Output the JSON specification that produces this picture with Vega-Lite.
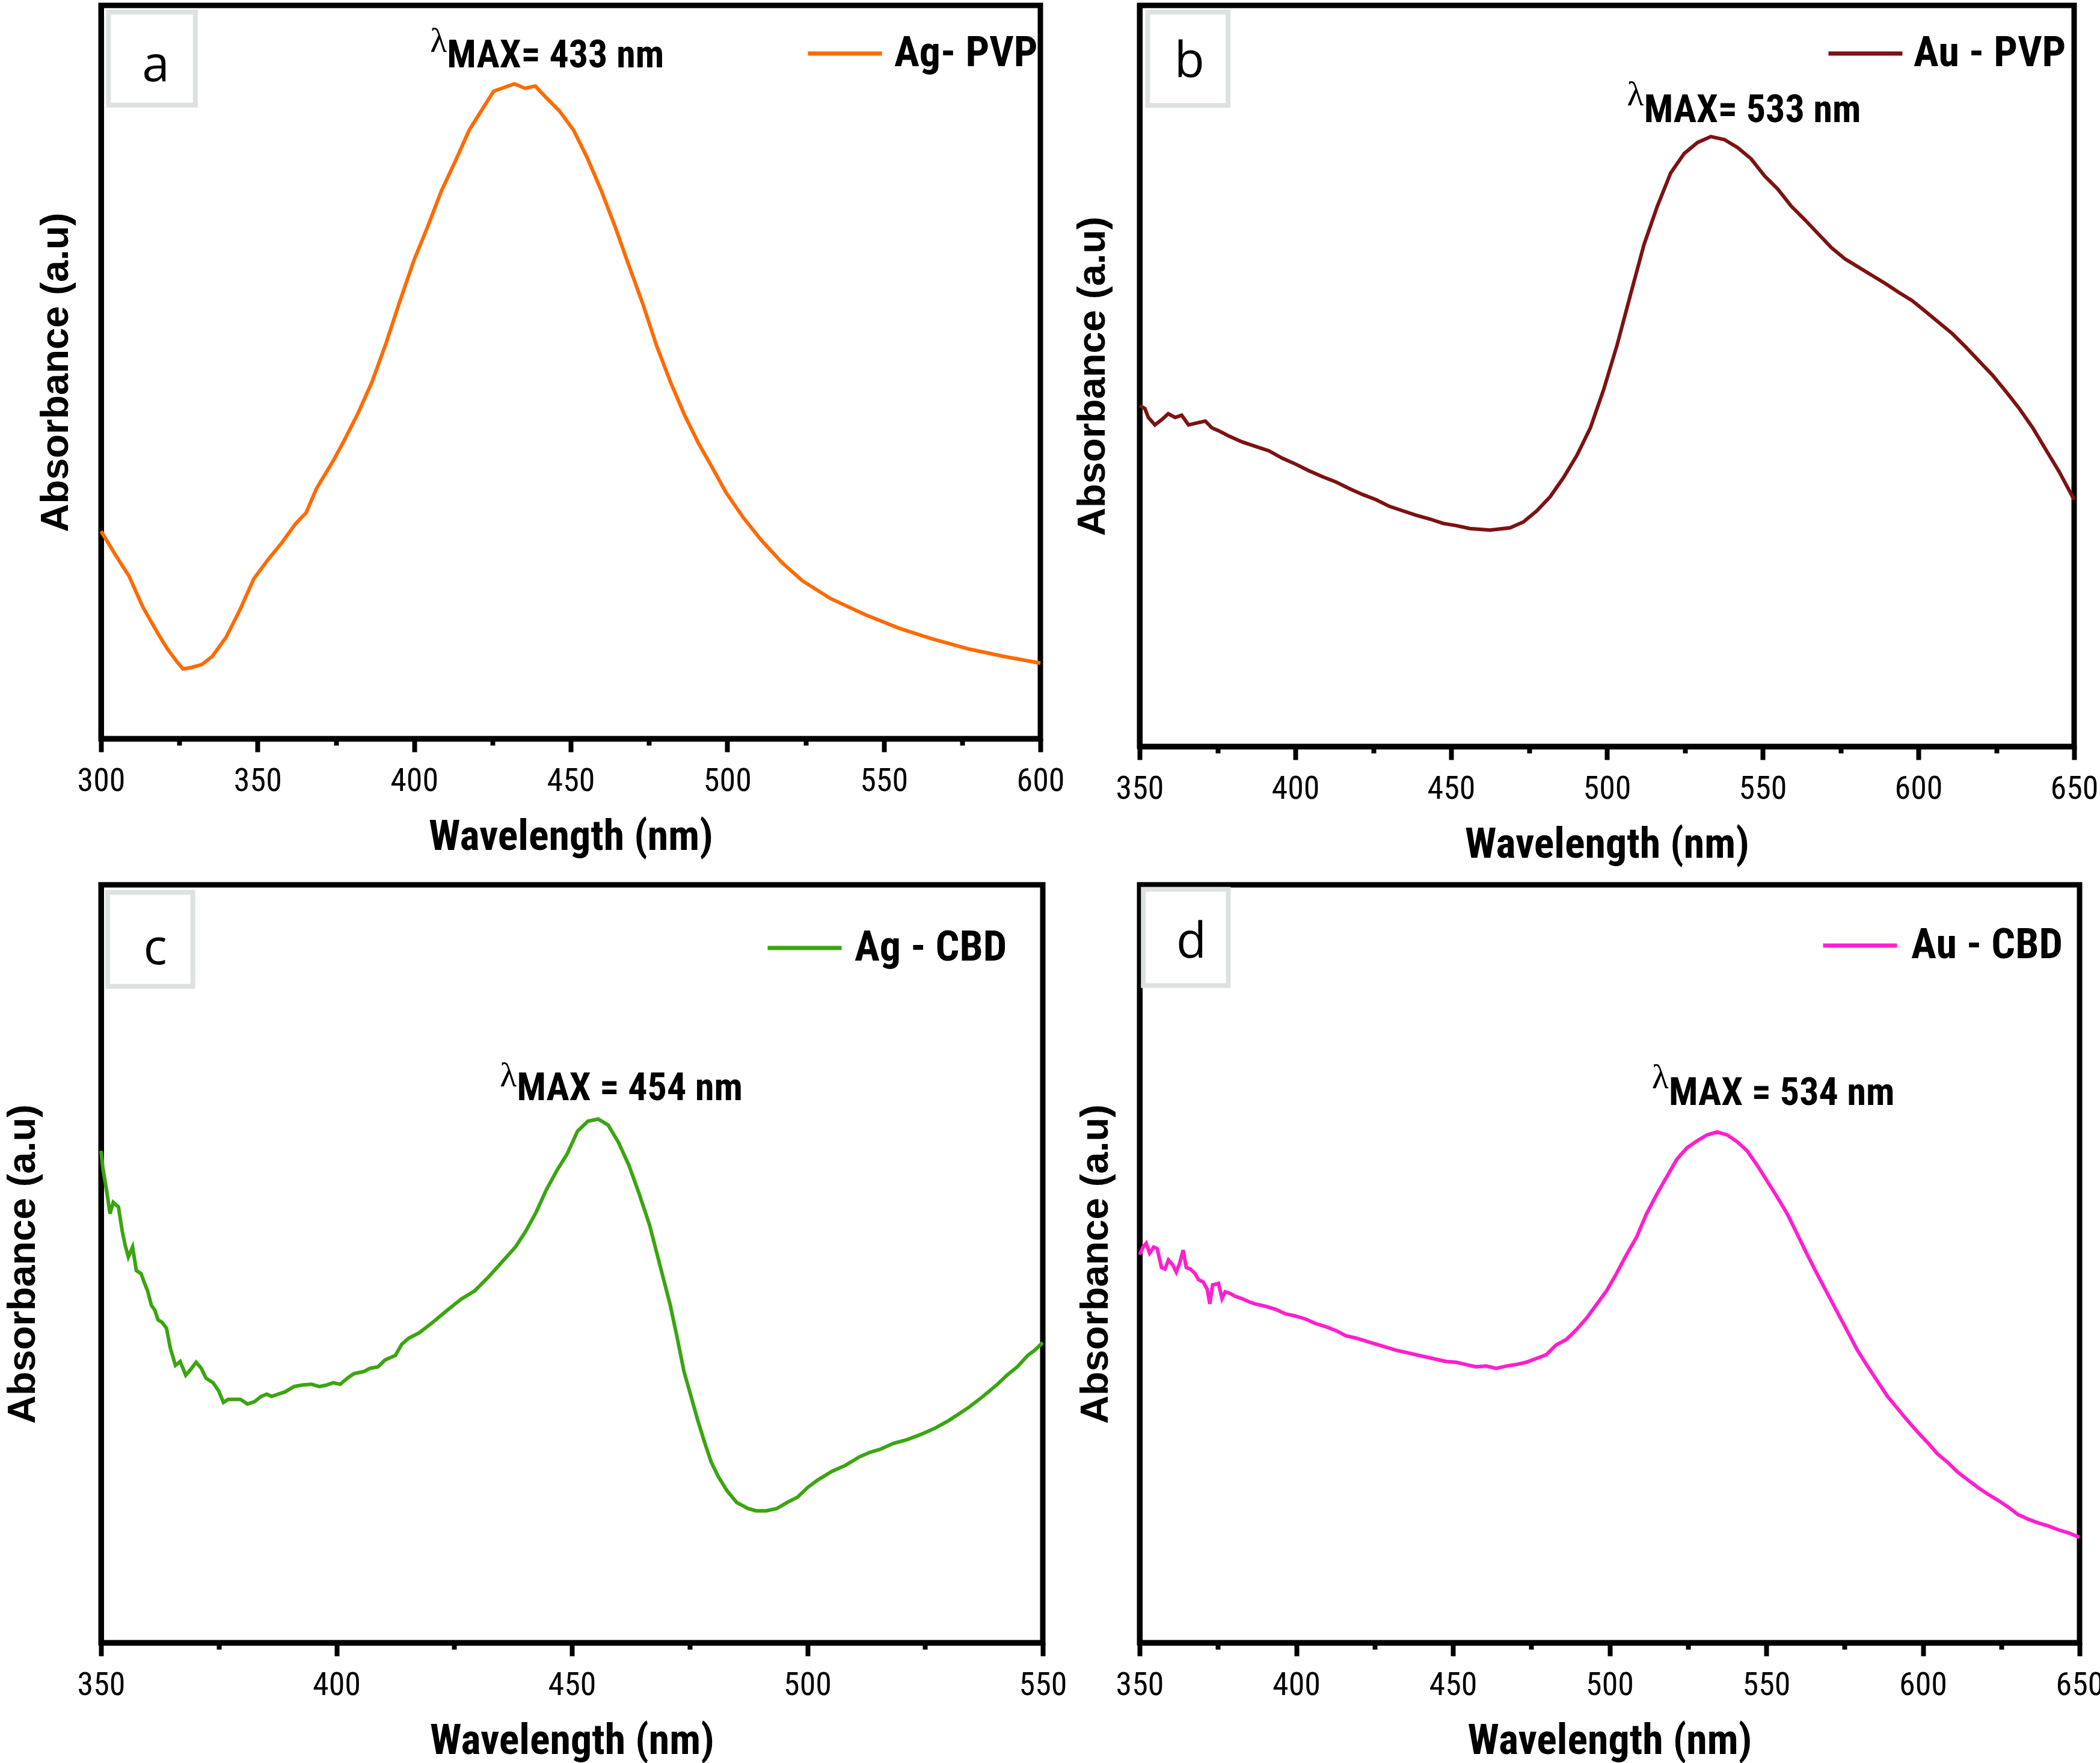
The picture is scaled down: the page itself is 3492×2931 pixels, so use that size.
{
  "$schema": "https://vega.github.io/schema/vega-lite/v6.json",
  "background": "white",
  "autosize": {"type": "pad"},
  "padding": {"left": 0, "top": 4, "right": 4, "bottom": 4},
  "columns": 2,
  "spacing": {"row": 230, "column": 161},
  "bounds": "flush",
  "resolve": {"scale": {"color": "independent"}, "legend": {"color": "independent"}},
  "datasets": {
    "a_curve": [
      {"wl":300.0,"abs":0.283},{"wl":304.4,"abs":0.252},{"wl":308.9,"abs":0.222},{"wl":313.3,"abs":0.180},{"wl":317.8,"abs":0.146},{"wl":321.1,"abs":0.123},{"wl":324.4,"abs":0.104},{"wl":326.2,"abs":0.095},{"wl":328.8,"abs":0.097},{"wl":332.2,"abs":0.101},{"wl":335.5,"abs":0.112},{"wl":339.9,"abs":0.138},{"wl":344.4,"abs":0.176},{"wl":348.8,"abs":0.218},{"wl":353.3,"abs":0.244},{"wl":357.7,"abs":0.267},{"wl":362.1,"abs":0.293},{"wl":365.5,"abs":0.308},{"wl":368.8,"abs":0.341},{"wl":374.3,"abs":0.380},{"wl":377.7,"abs":0.407},{"wl":382.1,"abs":0.444},{"wl":386.5,"abs":0.486},{"wl":391.0,"abs":0.539},{"wl":395.4,"abs":0.596},{"wl":399.9,"abs":0.652},{"wl":404.3,"abs":0.698},{"wl":408.7,"abs":0.747},{"wl":413.2,"abs":0.788},{"wl":417.6,"abs":0.830},{"wl":422.0,"abs":0.860},{"wl":425.4,"abs":0.883},{"wl":428.7,"abs":0.888},{"wl":432.0,"abs":0.893},{"wl":435.4,"abs":0.887},{"wl":438.7,"abs":0.890},{"wl":442.0,"abs":0.875},{"wl":446.4,"abs":0.856},{"wl":450.9,"abs":0.830},{"wl":455.3,"abs":0.792},{"wl":459.8,"abs":0.747},{"wl":464.2,"abs":0.698},{"wl":468.6,"abs":0.645},{"wl":473.1,"abs":0.592},{"wl":477.5,"abs":0.535},{"wl":481.9,"abs":0.486},{"wl":486.4,"abs":0.441},{"wl":490.8,"abs":0.403},{"wl":495.3,"abs":0.369},{"wl":499.7,"abs":0.335},{"wl":505.2,"abs":0.301},{"wl":510.8,"abs":0.271},{"wl":517.5,"abs":0.240},{"wl":524.1,"abs":0.215},{"wl":533.0,"abs":0.191},{"wl":544.1,"abs":0.169},{"wl":555.2,"abs":0.150},{"wl":566.3,"abs":0.135},{"wl":577.4,"abs":0.122},{"wl":588.5,"abs":0.112},{"wl":600.0,"abs":0.103}
    ],
    "b_curve": [
      {"wl":350.0,"abs":0.460},{"wl":351.7,"abs":0.456},{"wl":352.8,"abs":0.444},{"wl":354.9,"abs":0.434},{"wl":357.1,"abs":0.441},{"wl":359.2,"abs":0.449},{"wl":361.4,"abs":0.444},{"wl":363.5,"abs":0.447},{"wl":365.7,"abs":0.434},{"wl":367.8,"abs":0.436},{"wl":371.1,"abs":0.439},{"wl":373.2,"abs":0.430},{"wl":375.4,"abs":0.426},{"wl":378.6,"abs":0.419},{"wl":382.9,"abs":0.411},{"wl":387.2,"abs":0.405},{"wl":391.5,"abs":0.399},{"wl":395.8,"abs":0.389},{"wl":400.1,"abs":0.381},{"wl":404.4,"abs":0.372},{"wl":408.7,"abs":0.364},{"wl":413.0,"abs":0.357},{"wl":417.3,"abs":0.348},{"wl":421.6,"abs":0.340},{"wl":425.9,"abs":0.333},{"wl":430.2,"abs":0.324},{"wl":434.5,"abs":0.318},{"wl":438.8,"abs":0.312},{"wl":443.1,"abs":0.307},{"wl":447.4,"abs":0.301},{"wl":451.7,"abs":0.298},{"wl":456.0,"abs":0.294},{"wl":462.5,"abs":0.292},{"wl":468.9,"abs":0.295},{"wl":473.2,"abs":0.303},{"wl":477.5,"abs":0.318},{"wl":481.8,"abs":0.337},{"wl":486.1,"abs":0.363},{"wl":490.4,"abs":0.393},{"wl":494.7,"abs":0.430},{"wl":499.0,"abs":0.482},{"wl":503.3,"abs":0.542},{"wl":507.6,"abs":0.610},{"wl":511.9,"abs":0.677},{"wl":516.2,"abs":0.729},{"wl":520.5,"abs":0.774},{"wl":524.8,"abs":0.800},{"wl":529.1,"abs":0.815},{"wl":533.4,"abs":0.823},{"wl":537.7,"abs":0.819},{"wl":542.0,"abs":0.808},{"wl":546.3,"abs":0.793},{"wl":550.6,"abs":0.770},{"wl":554.9,"abs":0.752},{"wl":559.2,"abs":0.729},{"wl":563.5,"abs":0.711},{"wl":567.8,"abs":0.692},{"wl":572.1,"abs":0.673},{"wl":576.4,"abs":0.658},{"wl":580.7,"abs":0.647},{"wl":585.0,"abs":0.636},{"wl":589.3,"abs":0.625},{"wl":593.6,"abs":0.613},{"wl":597.9,"abs":0.602},{"wl":602.3,"abs":0.587},{"wl":606.6,"abs":0.572},{"wl":610.9,"abs":0.557},{"wl":615.2,"abs":0.539},{"wl":619.5,"abs":0.520},{"wl":623.8,"abs":0.501},{"wl":628.1,"abs":0.479},{"wl":632.4,"abs":0.456},{"wl":636.7,"abs":0.430},{"wl":641.0,"abs":0.400},{"wl":645.3,"abs":0.370},{"wl":650.0,"abs":0.333}
    ],
    "c_curve": [
      {"wl":350.0,"abs":0.649},{"wl":350.4,"abs":0.626},{"wl":351.2,"abs":0.596},{"wl":351.9,"abs":0.566},{"wl":352.6,"abs":0.581},{"wl":353.7,"abs":0.575},{"wl":354.5,"abs":0.543},{"wl":355.1,"abs":0.525},{"wl":355.8,"abs":0.509},{"wl":356.7,"abs":0.522},{"wl":357.5,"abs":0.491},{"wl":358.5,"abs":0.487},{"wl":359.2,"abs":0.475},{"wl":359.9,"abs":0.464},{"wl":360.7,"abs":0.445},{"wl":361.4,"abs":0.439},{"wl":362.1,"abs":0.426},{"wl":362.9,"abs":0.423},{"wl":363.9,"abs":0.415},{"wl":364.7,"abs":0.389},{"wl":365.8,"abs":0.366},{"wl":366.8,"abs":0.371},{"wl":368.0,"abs":0.353},{"wl":369.1,"abs":0.361},{"wl":370.2,"abs":0.370},{"wl":371.3,"abs":0.362},{"wl":372.3,"abs":0.349},{"wl":373.8,"abs":0.343},{"wl":375.0,"abs":0.332},{"wl":376.0,"abs":0.317},{"wl":377.0,"abs":0.321},{"wl":378.5,"abs":0.321},{"wl":379.6,"abs":0.321},{"wl":381.1,"abs":0.315},{"wl":382.6,"abs":0.318},{"wl":384.0,"abs":0.325},{"wl":385.2,"abs":0.328},{"wl":386.2,"abs":0.325},{"wl":387.7,"abs":0.328},{"wl":389.1,"abs":0.331},{"wl":391.0,"abs":0.338},{"wl":392.8,"abs":0.340},{"wl":394.7,"abs":0.341},{"wl":396.4,"abs":0.338},{"wl":397.9,"abs":0.340},{"wl":399.3,"abs":0.343},{"wl":400.8,"abs":0.341},{"wl":402.3,"abs":0.349},{"wl":403.7,"abs":0.355},{"wl":405.9,"abs":0.358},{"wl":407.1,"abs":0.362},{"wl":408.8,"abs":0.364},{"wl":410.3,"abs":0.373},{"wl":412.5,"abs":0.379},{"wl":413.9,"abs":0.394},{"wl":415.4,"abs":0.402},{"wl":417.6,"abs":0.409},{"wl":420.5,"abs":0.423},{"wl":423.4,"abs":0.438},{"wl":426.4,"abs":0.453},{"wl":429.3,"abs":0.464},{"wl":432.2,"abs":0.482},{"wl":435.1,"abs":0.502},{"wl":438.0,"abs":0.522},{"wl":440.2,"abs":0.543},{"wl":442.4,"abs":0.568},{"wl":444.6,"abs":0.598},{"wl":446.8,"abs":0.623},{"wl":449.0,"abs":0.645},{"wl":451.2,"abs":0.675},{"wl":453.4,"abs":0.688},{"wl":455.6,"abs":0.691},{"wl":457.7,"abs":0.683},{"wl":459.9,"abs":0.660},{"wl":462.1,"abs":0.630},{"wl":464.3,"abs":0.592},{"wl":466.5,"abs":0.551},{"wl":468.7,"abs":0.498},{"wl":470.9,"abs":0.445},{"wl":472.3,"abs":0.404},{"wl":473.8,"abs":0.358},{"wl":475.3,"abs":0.325},{"wl":476.7,"abs":0.294},{"wl":478.2,"abs":0.264},{"wl":479.6,"abs":0.238},{"wl":481.1,"abs":0.219},{"wl":483.0,"abs":0.200},{"wl":485.0,"abs":0.185},{"wl":487.4,"abs":0.177},{"wl":489.1,"abs":0.174},{"wl":491.3,"abs":0.174},{"wl":493.5,"abs":0.177},{"wl":495.7,"abs":0.185},{"wl":497.9,"abs":0.192},{"wl":500.1,"abs":0.205},{"wl":502.3,"abs":0.215},{"wl":505.2,"abs":0.226},{"wl":508.1,"abs":0.234},{"wl":511.0,"abs":0.245},{"wl":513.2,"abs":0.251},{"wl":515.4,"abs":0.255},{"wl":518.3,"abs":0.263},{"wl":521.2,"abs":0.268},{"wl":524.2,"abs":0.275},{"wl":527.1,"abs":0.283},{"wl":530.0,"abs":0.293},{"wl":532.2,"abs":0.302},{"wl":534.4,"abs":0.311},{"wl":537.3,"abs":0.325},{"wl":540.2,"abs":0.340},{"wl":542.4,"abs":0.353},{"wl":544.6,"abs":0.364},{"wl":546.8,"abs":0.379},{"wl":548.3,"abs":0.386},{"wl":550.0,"abs":0.396}
    ],
    "d_curve": [
      {"wl":350.0,"abs":0.512},{"wl":351.1,"abs":0.522},{"wl":352.1,"abs":0.527},{"wl":353.2,"abs":0.514},{"wl":354.5,"abs":0.522},{"wl":355.6,"abs":0.520},{"wl":357.0,"abs":0.495},{"wl":358.1,"abs":0.493},{"wl":359.2,"abs":0.505},{"wl":360.5,"abs":0.499},{"wl":361.7,"abs":0.489},{"wl":362.8,"abs":0.501},{"wl":363.9,"abs":0.518},{"wl":364.9,"abs":0.495},{"wl":366.2,"abs":0.493},{"wl":367.7,"abs":0.487},{"wl":368.8,"abs":0.479},{"wl":370.3,"abs":0.476},{"wl":371.6,"abs":0.466},{"wl":372.4,"abs":0.447},{"wl":373.3,"abs":0.472},{"wl":375.2,"abs":0.474},{"wl":376.3,"abs":0.454},{"wl":377.3,"abs":0.463},{"wl":378.8,"abs":0.461},{"wl":380.5,"abs":0.457},{"wl":382.7,"abs":0.454},{"wl":384.8,"abs":0.450},{"wl":386.9,"abs":0.447},{"wl":390.1,"abs":0.444},{"wl":393.3,"abs":0.440},{"wl":396.5,"abs":0.434},{"wl":399.7,"abs":0.431},{"wl":403.0,"abs":0.427},{"wl":406.2,"abs":0.421},{"wl":409.4,"abs":0.417},{"wl":412.6,"abs":0.412},{"wl":415.8,"abs":0.405},{"wl":419.0,"abs":0.402},{"wl":422.2,"abs":0.398},{"wl":425.4,"abs":0.394},{"wl":428.6,"abs":0.390},{"wl":431.8,"abs":0.386},{"wl":435.0,"abs":0.383},{"wl":438.2,"abs":0.380},{"wl":441.4,"abs":0.377},{"wl":444.6,"abs":0.374},{"wl":447.8,"abs":0.371},{"wl":451.0,"abs":0.370},{"wl":454.2,"abs":0.367},{"wl":457.4,"abs":0.364},{"wl":460.6,"abs":0.365},{"wl":463.8,"abs":0.362},{"wl":467.0,"abs":0.365},{"wl":470.2,"abs":0.367},{"wl":473.4,"abs":0.370},{"wl":476.6,"abs":0.375},{"wl":479.8,"abs":0.380},{"wl":483.0,"abs":0.393},{"wl":486.2,"abs":0.400},{"wl":489.4,"abs":0.413},{"wl":492.6,"abs":0.428},{"wl":495.8,"abs":0.446},{"wl":499.0,"abs":0.464},{"wl":502.2,"abs":0.487},{"wl":505.4,"abs":0.512},{"wl":508.6,"abs":0.535},{"wl":511.8,"abs":0.566},{"wl":515.1,"abs":0.592},{"wl":518.3,"abs":0.615},{"wl":521.5,"abs":0.638},{"wl":524.7,"abs":0.653},{"wl":527.9,"abs":0.662},{"wl":531.1,"abs":0.670},{"wl":534.3,"abs":0.674},{"wl":537.5,"abs":0.670},{"wl":540.7,"abs":0.661},{"wl":543.9,"abs":0.649},{"wl":547.1,"abs":0.630},{"wl":550.3,"abs":0.609},{"wl":553.5,"abs":0.588},{"wl":556.7,"abs":0.566},{"wl":559.9,"abs":0.539},{"wl":563.1,"abs":0.512},{"wl":566.3,"abs":0.486},{"wl":569.5,"abs":0.461},{"wl":572.7,"abs":0.436},{"wl":575.9,"abs":0.411},{"wl":579.1,"abs":0.386},{"wl":582.3,"abs":0.365},{"wl":585.5,"abs":0.345},{"wl":588.7,"abs":0.325},{"wl":591.9,"abs":0.309},{"wl":595.1,"abs":0.293},{"wl":598.3,"abs":0.278},{"wl":601.5,"abs":0.264},{"wl":604.7,"abs":0.249},{"wl":607.9,"abs":0.238},{"wl":611.1,"abs":0.225},{"wl":614.3,"abs":0.215},{"wl":617.5,"abs":0.205},{"wl":620.7,"abs":0.196},{"wl":623.9,"abs":0.188},{"wl":627.2,"abs":0.179},{"wl":630.4,"abs":0.169},{"wl":633.6,"abs":0.163},{"wl":636.8,"abs":0.158},{"wl":640.0,"abs":0.154},{"wl":643.2,"abs":0.149},{"wl":646.4,"abs":0.145},{"wl":650.0,"abs":0.139}
    ],
    "a_notes": [
      {"kind":"box","x":302.4,"x2":330.1,"y":0.864,"y2":0.991},
      {"kind":"letter","x":317.5,"y":0.917,"text":"a"},
      {"kind":"lambda","x":410.5,"y":0.951,"text":"λ"},
      {"kind":"max","x":410.5,"y":0.931,"text":"MAX= 433 nm"}
    ],
    "b_notes": [
      {"kind":"box","x":352.6,"x2":378.4,"y":0.865,"y2":0.991},
      {"kind":"letter","x":366.0,"y":0.924,"text":"b"},
      {"kind":"lambda","x":511.9,"y":0.879,"text":"λ"},
      {"kind":"max","x":511.9,"y":0.858,"text":"MAX= 533 nm"}
    ],
    "c_notes": [
      {"kind":"box","x":351.4,"x2":369.5,"y":0.866,"y2":0.99},
      {"kind":"letter","x":361.5,"y":0.915,"text":"c"},
      {"kind":"lambda","x":438.3,"y":0.748,"text":"λ"},
      {"kind":"max","x":438.3,"y":0.731,"text":"MAX = 454 nm"}
    ],
    "d_notes": [
      {"kind":"box","x":351.2,"x2":378.3,"y":0.867,"y2":0.994},
      {"kind":"letter","x":366.5,"y":0.924,"text":"d"},
      {"kind":"lambda","x":518.9,"y":0.745,"text":"λ"},
      {"kind":"max","x":518.9,"y":0.725,"text":"MAX = 534 nm"}
    ]
  },
  "concat": [
    {
      "width": 1562, "height": 1219,
      "resolve": {"axis": {"x": "independent"}},
      "layer": [
        {
          "data": {"name": "a_curve"},
          "mark": {"type": "line", "strokeWidth": 6},
          "encoding": {
            "x": {"field": "wl", "type": "quantitative", "scale": {"domain": [300, 600], "nice": false, "zero": false},
                  "axis": {"orient": "bottom", "values": [300, 350, 400, 450, 500, 550, 600], "tickSize": 22, "title": "Wavelength (nm)"}},
            "y": {"field": "abs", "type": "quantitative", "scale": {"domain": [0, 1], "nice": false, "zero": false},
                  "axis": {"title": "Absorbance (a.u)", "labels": false, "ticks": false, "titlePadding": 42, "titleFont": "Liberation Sans", "titleFontSize": 65, "titleFontWeight": "bold"}},
            "color": {"datum": "Ag- PVP", "type": "nominal", "scale": {"range": ["#ff6a00"]},
                      "legend": {"orient": "none", "legendX": 1172, "legendY": 15, "labelOffset": 17}}
          }
        },
        {
          "data": {"name": "a_notes"},
          "transform": [{"filter": "datum.kind == 'box'"}],
          "mark": {"type": "rect", "filled": false, "stroke": "#dde2e1", "strokeWidth": 8},
          "encoding": {
            "x": {"field": "x", "type": "quantitative", "scale": {"domain": [300, 600], "nice": false, "zero": false},
                  "axis": {"orient": "bottom", "values": [325, 375, 425, 475, 525, 575], "labels": false, "domain": false, "tickSize": 11, "title": null}},
            "x2": {"field": "x2"},
            "y": {"field": "y", "type": "quantitative"},
            "y2": {"field": "y2"}
          }
        },
        {
          "data": {"name": "a_notes"},
          "transform": [{"filter": "datum.kind == 'letter'"}],
          "mark": {"type": "text", "font": "Open Sans", "fontSize": 82, "align": "center", "baseline": "middle", "color": "black"},
          "encoding": {"x": {"field": "x", "type": "quantitative", "axis": null}, "y": {"field": "y", "type": "quantitative"}, "text": {"field": "text"}}
        },
        {
          "data": {"name": "a_notes"},
          "transform": [{"filter": "datum.kind == 'lambda'"}],
          "mark": {"type": "text", "font": "Liberation Serif", "fontSize": 58, "align": "right", "baseline": "middle", "color": "black"},
          "encoding": {"x": {"field": "x", "type": "quantitative", "axis": null}, "y": {"field": "y", "type": "quantitative"}, "text": {"field": "text"}}
        },
        {
          "data": {"name": "a_notes"},
          "transform": [{"filter": "datum.kind == 'max'"}],
          "mark": {"type": "text", "font": "Roboto Condensed, Liberation Sans", "fontSize": 64, "fontWeight": "bold", "align": "left", "baseline": "middle", "color": "black"},
          "encoding": {"x": {"field": "x", "type": "quantitative", "axis": null}, "y": {"field": "y", "type": "quantitative"}, "text": {"field": "text"}}
        }
      ]
    },
    {
      "width": 1554, "height": 1232,
      "resolve": {"axis": {"x": "independent"}},
      "layer": [
        {
          "data": {"name": "b_curve"},
          "mark": {"type": "line", "strokeWidth": 6},
          "encoding": {
            "x": {"field": "wl", "type": "quantitative", "scale": {"domain": [350, 650], "nice": false, "zero": false},
                  "axis": {"orient": "bottom", "values": [350, 400, 450, 500, 550, 600, 650], "tickSize": 22, "title": "Wavelength (nm)"}},
            "y": {"field": "abs", "type": "quantitative", "scale": {"domain": [0, 1], "nice": false, "zero": false},
                  "axis": {"title": "Absorbance (a.u)", "labels": false, "ticks": false, "titlePadding": 45, "titleFont": "Liberation Sans", "titleFontSize": 65, "titleFontWeight": "bold"}},
            "color": {"datum": "Au - PVP", "type": "nominal", "scale": {"range": ["#7d1212"]},
                      "legend": {"orient": "none", "legendX": 1142, "legendY": 15, "labelOffset": 15}}
          }
        },
        {
          "data": {"name": "b_notes"},
          "transform": [{"filter": "datum.kind == 'box'"}],
          "mark": {"type": "rect", "filled": false, "stroke": "#dde2e1", "strokeWidth": 8},
          "encoding": {
            "x": {"field": "x", "type": "quantitative", "scale": {"domain": [350, 650], "nice": false, "zero": false},
                  "axis": {"orient": "bottom", "values": [375, 425, 475, 525, 575, 625], "labels": false, "domain": false, "tickSize": 11, "title": null}},
            "x2": {"field": "x2"},
            "y": {"field": "y", "type": "quantitative"},
            "y2": {"field": "y2"}
          }
        },
        {
          "data": {"name": "b_notes"},
          "transform": [{"filter": "datum.kind == 'letter'"}],
          "mark": {"type": "text", "font": "Open Sans", "fontSize": 82, "align": "center", "baseline": "middle", "color": "black"},
          "encoding": {"x": {"field": "x", "type": "quantitative", "axis": null}, "y": {"field": "y", "type": "quantitative"}, "text": {"field": "text"}}
        },
        {
          "data": {"name": "b_notes"},
          "transform": [{"filter": "datum.kind == 'lambda'"}],
          "mark": {"type": "text", "font": "Liberation Serif", "fontSize": 58, "align": "right", "baseline": "middle", "color": "black"},
          "encoding": {"x": {"field": "x", "type": "quantitative", "axis": null}, "y": {"field": "y", "type": "quantitative"}, "text": {"field": "text"}}
        },
        {
          "data": {"name": "b_notes"},
          "transform": [{"filter": "datum.kind == 'max'"}],
          "mark": {"type": "text", "font": "Roboto Condensed, Liberation Sans", "fontSize": 64, "fontWeight": "bold", "align": "left", "baseline": "middle", "color": "black"},
          "encoding": {"x": {"field": "x", "type": "quantitative", "axis": null}, "y": {"field": "y", "type": "quantitative"}, "text": {"field": "text"}}
        }
      ]
    },
    {
      "width": 1566, "height": 1260,
      "resolve": {"axis": {"x": "independent"}},
      "layer": [
        {
          "data": {"name": "c_curve"},
          "mark": {"type": "line", "strokeWidth": 6},
          "encoding": {
            "x": {"field": "wl", "type": "quantitative", "scale": {"domain": [350, 550], "nice": false, "zero": false},
                  "axis": {"orient": "bottom", "values": [350, 400, 450, 500, 550], "tickSize": 22, "title": "Wavelength (nm)"}},
            "y": {"field": "abs", "type": "quantitative", "scale": {"domain": [0, 1], "nice": false, "zero": false},
                  "axis": {"title": "Absorbance (a.u)", "labels": false, "ticks": false, "titlePadding": 97, "titleFont": "Liberation Sans", "titleFontSize": 65, "titleFontWeight": "bold"}},
            "color": {"datum": "Ag - CBD", "type": "nominal", "scale": {"range": ["#3ba511"]},
                      "legend": {"orient": "none", "legendX": 1105, "legendY": 40, "labelOffset": 18}}
          }
        },
        {
          "data": {"name": "c_notes"},
          "transform": [{"filter": "datum.kind == 'box'"}],
          "mark": {"type": "rect", "filled": false, "stroke": "#dde2e1", "strokeWidth": 8},
          "encoding": {
            "x": {"field": "x", "type": "quantitative", "scale": {"domain": [350, 550], "nice": false, "zero": false},
                  "axis": {"orient": "bottom", "values": [375, 425, 475, 525], "labels": false, "domain": false, "tickSize": 11, "title": null}},
            "x2": {"field": "x2"},
            "y": {"field": "y", "type": "quantitative"},
            "y2": {"field": "y2"}
          }
        },
        {
          "data": {"name": "c_notes"},
          "transform": [{"filter": "datum.kind == 'letter'"}],
          "mark": {"type": "text", "font": "Open Sans", "fontSize": 82, "align": "center", "baseline": "middle", "color": "black"},
          "encoding": {"x": {"field": "x", "type": "quantitative", "axis": null}, "y": {"field": "y", "type": "quantitative"}, "text": {"field": "text"}}
        },
        {
          "data": {"name": "c_notes"},
          "transform": [{"filter": "datum.kind == 'lambda'"}],
          "mark": {"type": "text", "font": "Liberation Serif", "fontSize": 58, "align": "right", "baseline": "middle", "color": "black"},
          "encoding": {"x": {"field": "x", "type": "quantitative", "axis": null}, "y": {"field": "y", "type": "quantitative"}, "text": {"field": "text"}}
        },
        {
          "data": {"name": "c_notes"},
          "transform": [{"filter": "datum.kind == 'max'"}],
          "mark": {"type": "text", "font": "Roboto Condensed, Liberation Sans", "fontSize": 64, "fontWeight": "bold", "align": "left", "baseline": "middle", "color": "black"},
          "encoding": {"x": {"field": "x", "type": "quantitative", "axis": null}, "y": {"field": "y", "type": "quantitative"}, "text": {"field": "text"}}
        }
      ]
    },
    {
      "width": 1563, "height": 1260,
      "resolve": {"axis": {"x": "independent"}},
      "layer": [
        {
          "data": {"name": "d_curve"},
          "mark": {"type": "line", "strokeWidth": 6},
          "encoding": {
            "x": {"field": "wl", "type": "quantitative", "scale": {"domain": [350, 650], "nice": false, "zero": false},
                  "axis": {"orient": "bottom", "values": [350, 400, 450, 500, 550, 600, 650], "tickSize": 22, "title": "Wavelength (nm)"}},
            "y": {"field": "abs", "type": "quantitative", "scale": {"domain": [0, 1], "nice": false, "zero": false},
                  "axis": {"title": "Absorbance (a.u)", "labels": false, "ticks": false, "titlePadding": 40, "titleFont": "Liberation Sans", "titleFontSize": 65, "titleFontWeight": "bold"}},
            "color": {"datum": "Au - CBD", "type": "nominal", "scale": {"range": ["#ff1fce"]},
                      "legend": {"orient": "none", "legendX": 1133, "legendY": 36, "labelOffset": 20}}
          }
        },
        {
          "data": {"name": "d_notes"},
          "transform": [{"filter": "datum.kind == 'box'"}],
          "mark": {"type": "rect", "filled": false, "stroke": "#dde2e1", "strokeWidth": 8},
          "encoding": {
            "x": {"field": "x", "type": "quantitative", "scale": {"domain": [350, 650], "nice": false, "zero": false},
                  "axis": {"orient": "bottom", "values": [375, 425, 475, 525, 575, 625], "labels": false, "domain": false, "tickSize": 11, "title": null}},
            "x2": {"field": "x2"},
            "y": {"field": "y", "type": "quantitative"},
            "y2": {"field": "y2"}
          }
        },
        {
          "data": {"name": "d_notes"},
          "transform": [{"filter": "datum.kind == 'letter'"}],
          "mark": {"type": "text", "font": "Open Sans", "fontSize": 82, "align": "center", "baseline": "middle", "color": "black"},
          "encoding": {"x": {"field": "x", "type": "quantitative", "axis": null}, "y": {"field": "y", "type": "quantitative"}, "text": {"field": "text"}}
        },
        {
          "data": {"name": "d_notes"},
          "transform": [{"filter": "datum.kind == 'lambda'"}],
          "mark": {"type": "text", "font": "Liberation Serif", "fontSize": 58, "align": "right", "baseline": "middle", "color": "black"},
          "encoding": {"x": {"field": "x", "type": "quantitative", "axis": null}, "y": {"field": "y", "type": "quantitative"}, "text": {"field": "text"}}
        },
        {
          "data": {"name": "d_notes"},
          "transform": [{"filter": "datum.kind == 'max'"}],
          "mark": {"type": "text", "font": "Roboto Condensed, Liberation Sans", "fontSize": 64, "fontWeight": "bold", "align": "left", "baseline": "middle", "color": "black"},
          "encoding": {"x": {"field": "x", "type": "quantitative", "axis": null}, "y": {"field": "y", "type": "quantitative"}, "text": {"field": "text"}}
        }
      ]
    }
  ],
  "config": {
    "view": {"stroke": "black", "strokeWidth": 9},
    "axis": {
      "grid": false,
      "domainColor": "black", "domainWidth": 9,
      "tickColor": "black", "tickWidth": 8,
      "labelColor": "black", "labelFont": "Roboto Condensed, Liberation Sans", "labelFontSize": 54,
      "labelPadding": 21, "labelFlush": false, "labelOverlap": false,
      "titleColor": "black", "titleFont": "Roboto Condensed, Liberation Sans", "titleFontSize": 70, "titleFontWeight": "bold", "titlePadding": 32
    },
    "legend": {
      "title": null, "padding": 0, "symbolType": "stroke", "symbolSize": 15129, "symbolStrokeWidth": 7,
      "labelFont": "Roboto Condensed, Liberation Sans", "labelFontSize": 70, "labelFontWeight": "bold",
      "labelColor": "black", "labelLimit": 0
    }
  }
}
